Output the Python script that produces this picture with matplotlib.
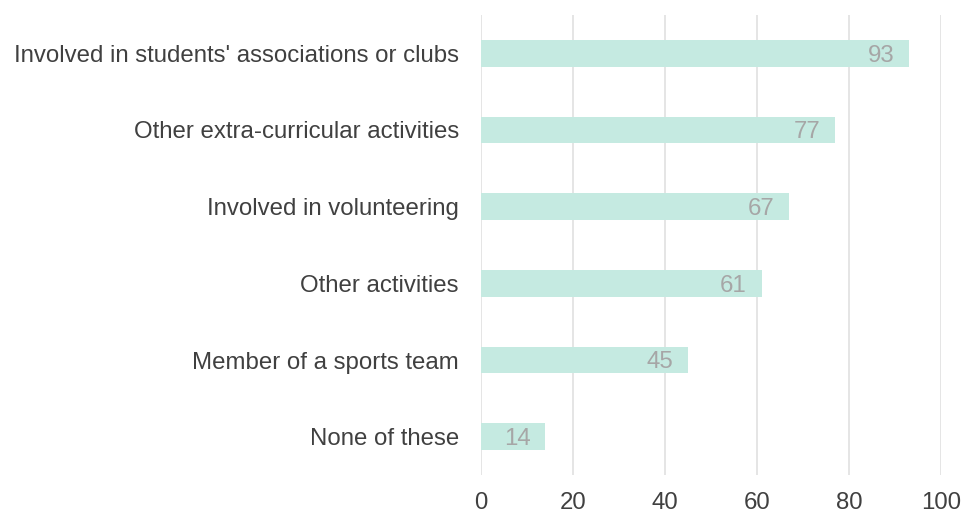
import matplotlib
matplotlib.use("Agg")
import matplotlib.pyplot as plt

categories = ["Involved in students' associations or clubs",
              "Other extra-curricular activities",
              "Involved in volunteering",
              "Other activities",
              "Member of a sports team",
              "None of these"]
values = [93, 77, 67, 61, 45, 14]
xticks = [0, 20, 40, 60, 80, 100]

plt.rcParams['font.family'] = ['Liberation Sans', 'DejaVu Sans']

fig = plt.figure(figsize=(9.63, 5.17), dpi=100)
ax = fig.add_axes([481/963, 1-475/517, 460/963, 460/517])

ypos = list(range(len(categories)))
bars = ax.barh(ypos, values, height=0.35, color='#c5eae1', zorder=2)
ax.set_ylim(len(categories)-0.5, -0.5)
ax.set_xlim(0, 100)
ax.set_yticks(ypos)
ax.set_yticklabels(categories, fontsize=17.3, color='#404040')
ax.set_xticks(xticks)
ax.set_xticklabels([str(t) for t in xticks], fontsize=17.3, color='#404040')
ax.tick_params(axis='both', length=0)
ax.tick_params(axis='y', pad=16)
ax.tick_params(axis='x', pad=12)
for s in ax.spines.values():
    s.set_visible(False)
ax.grid(axis='x', color='#e3e3e3', linewidth=1.3, zorder=0)
ax.set_axisbelow(True)

for b, v in zip(bars, values):
    ax.text(v - 3.2, b.get_y() + b.get_height()/2, str(v), ha='right', va='center_baseline',
            fontsize=17.3, color='#a6a6a6', zorder=3)

fig.savefig('out.png', dpi=100)
